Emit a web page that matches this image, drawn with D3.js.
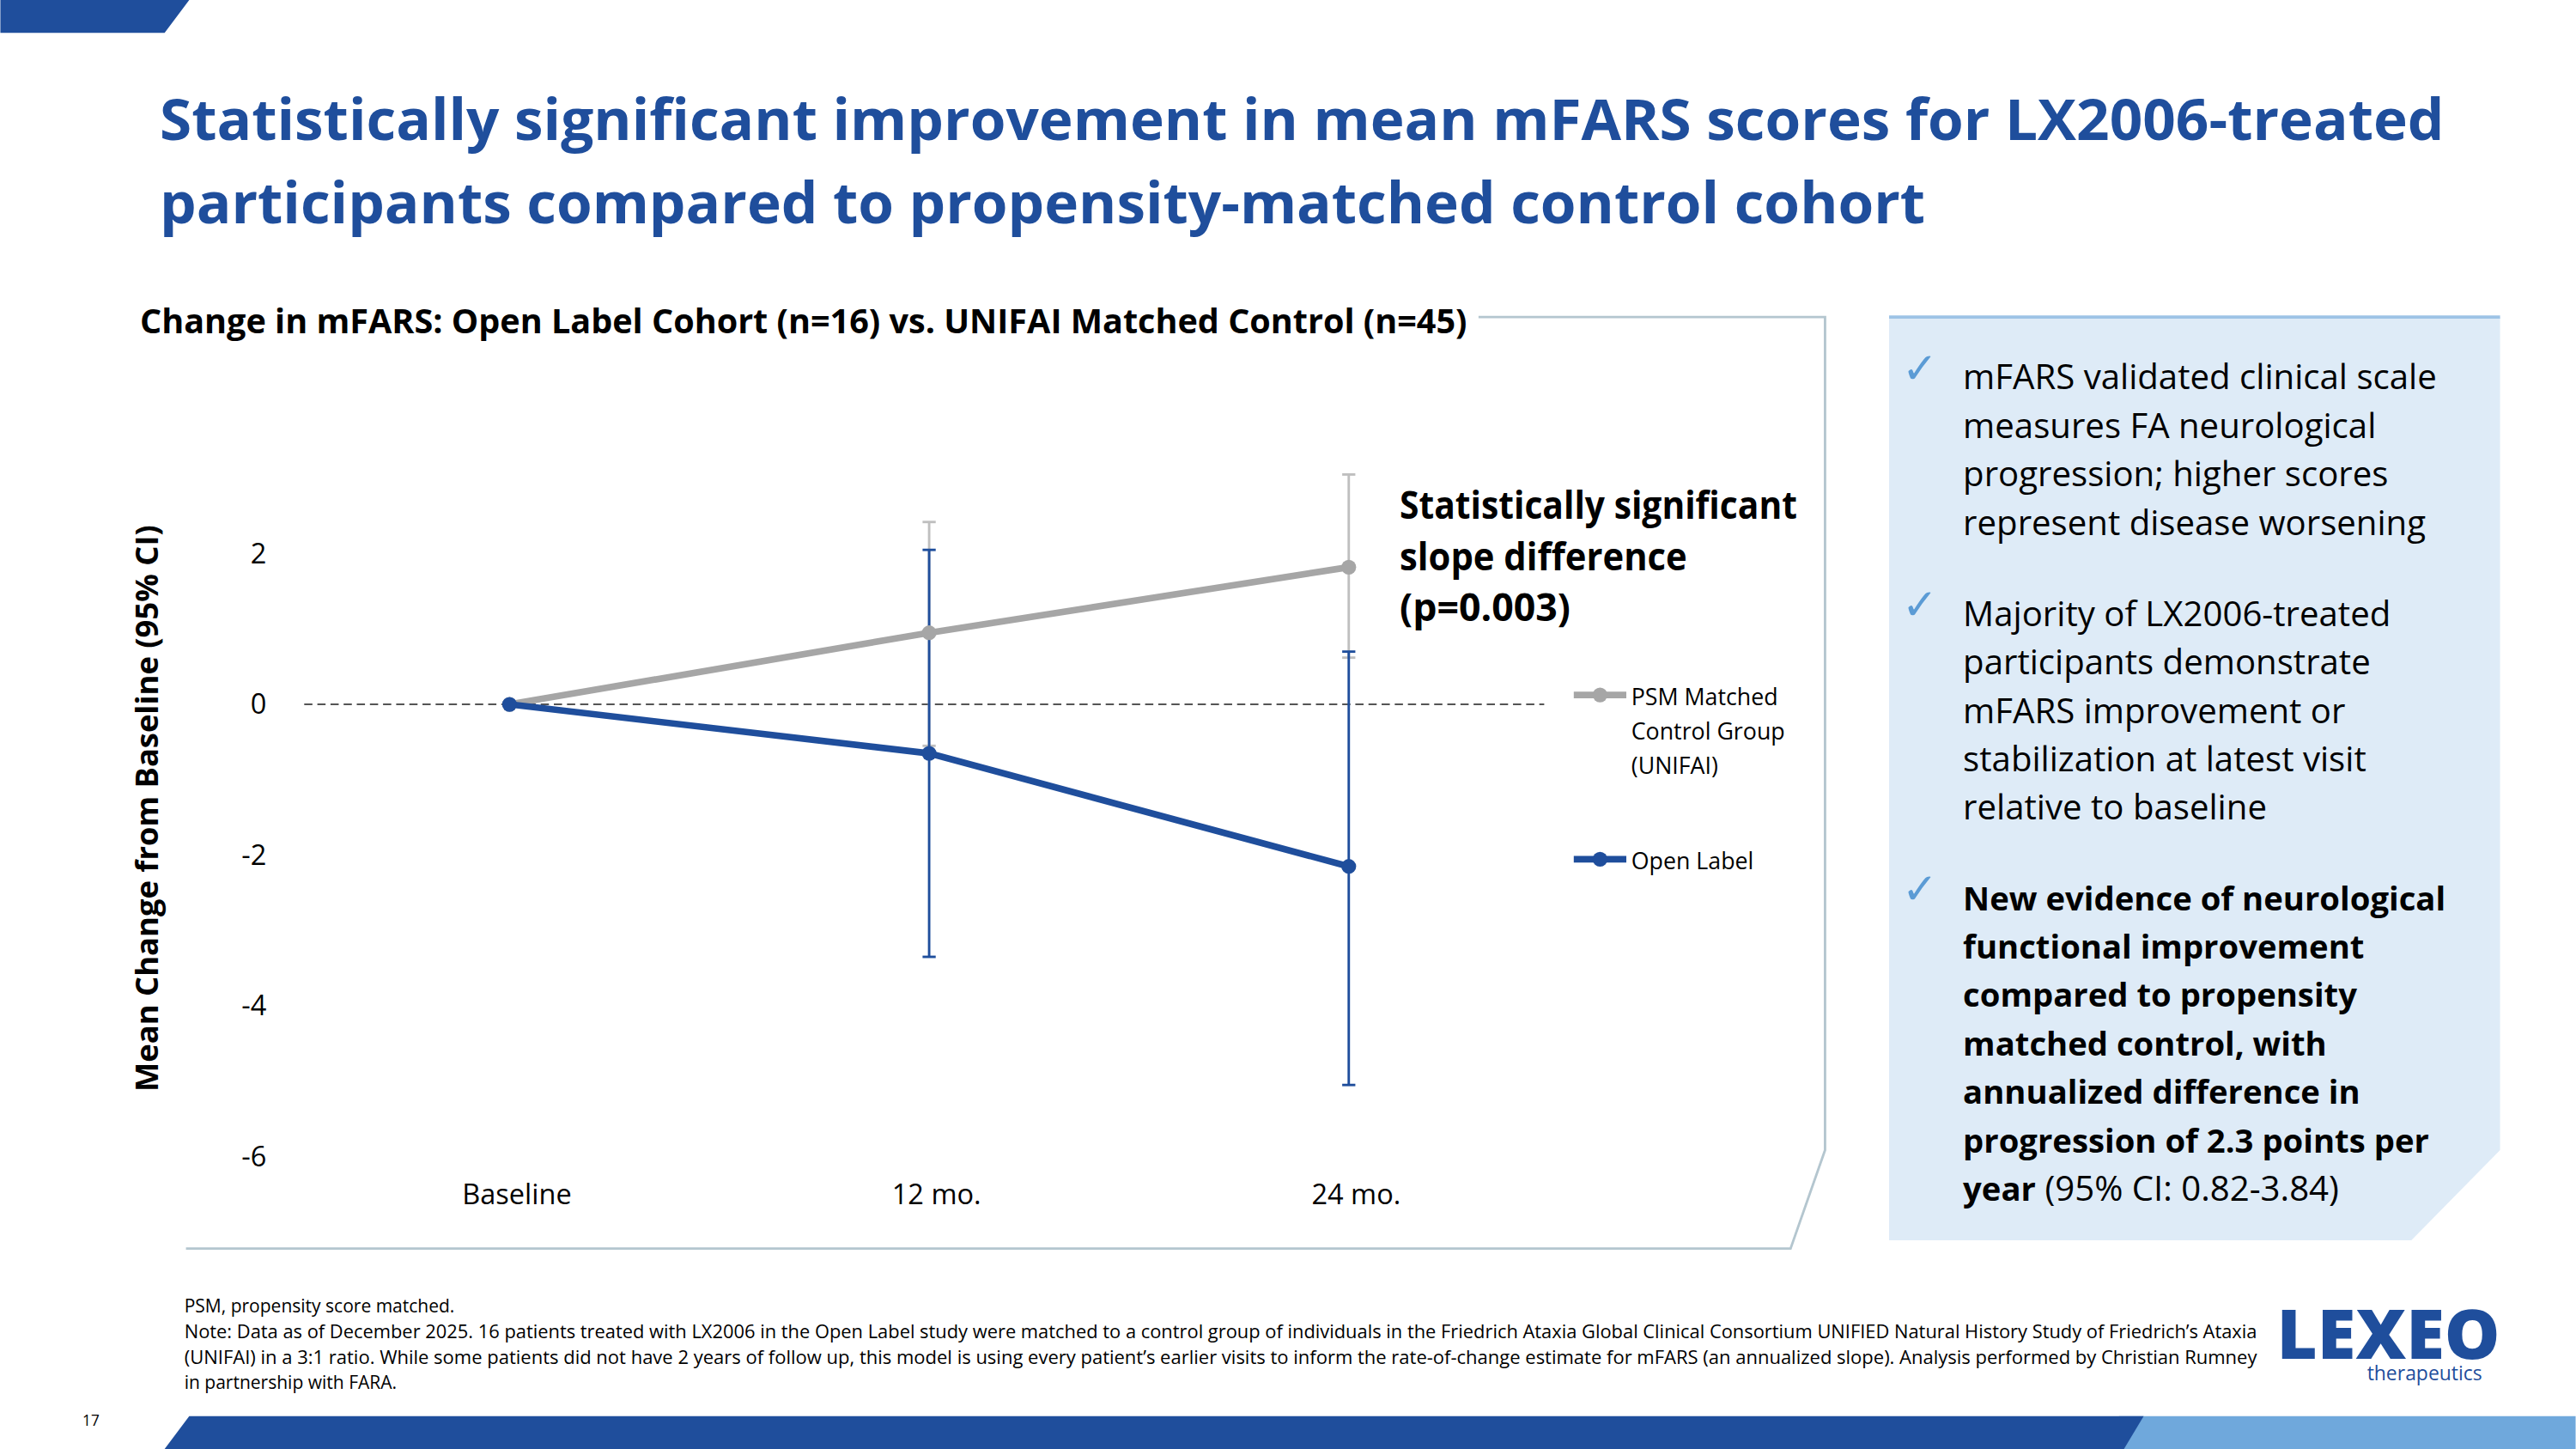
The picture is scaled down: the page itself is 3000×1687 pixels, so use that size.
<!DOCTYPE html>
<html><head><meta charset="utf-8">
<script src="https://cdn.jsdelivr.net/npm/d3@7"></script>
<style>body{margin:0;background:#fff}svg{display:block}text{font-family:"Open Sans",sans-serif}</style>
</head><body>
<svg id="c" width="3000" height="1687" viewBox="0 0 1568 882"></svg>
<script>
// data
var categories = ["Baseline", "12 mo.", "24 mo."];
var psmMean = [0, 0.95, 1.82];
var psmLow = [0, -0.55, 0.62];
var psmHigh = [0, 2.42, 3.05];
var olMean = [0, -0.65, -2.15];
var olLow = [0, -3.35, -5.05];
var olHigh = [0, 2.05, 0.7];
var yTicks = [2, 0, -2, -4, -6];
var titleLines = ["Statistically significant improvement in mean mFARS scores for LX2006-treated",
  "participants compared to propensity-matched control cohort"];
var bullets = [
  {bold: false, lines: ["mFARS validated clinical scale", "measures FA neurological", "progression; higher scores", "represent disease worsening"]},
  {bold: false, lines: ["Majority of LX2006-treated", "participants demonstrate", "mFARS improvement or", "stabilization at latest visit", "relative to baseline"]},
  {bold: true, lines: ["New evidence of neurological", "functional improvement", "compared to propensity", "matched control, with", "annualized difference in", "progression of 2.3 points per", "year|(95% CI: 0.82-3.84)"]}
];
var notes = ["PSM, propensity score matched.",
  "Note: Data as of December 2025. 16 patients treated with LX2006 in the Open Label study were matched to a control group of individuals in the Friedrich Ataxia Global Clinical Consortium UNIFIED Natural History Study of Friedrich\u2019s Ataxia",
  "(UNIFAI) in a 3:1 ratio. While some patients did not have 2 years of follow up, this model is using every patient\u2019s earlier visits to inform the rate-of-change estimate for mFARS (an annualized slope). Analysis performed by Christian Rumney",
  "in partnership with FARA."];

var blue = "#1f4e9c", grey = "#a6a6a6";
var svg = d3.select("#c");

// decorations
svg.append("path").attr("d", "M0,0H115L100,20H0Z").attr("fill", blue);
svg.append("path").attr("d", "M1290,862H1568V882H1278Z").attr("fill", "#6fa8dc");
svg.append("path").attr("d", "M115,862H1305L1293,882H100Z").attr("fill", blue);
svg.append("text").attr("x", 50).attr("y", 868).attr("font-size", 9).text("17");

titleLines.forEach(function (t, i) {
  svg.append("text").attr("x", 97).attr("y", 85 + i * 51).attr("font-size", 35).attr("font-weight", 700)
    .attr("fill", blue).attr("textLength", i === 0 ? 1391 : 1075).attr("lengthAdjust", "spacingAndGlyphs").text(t);
});

// chart frame
svg.append("path").attr("d", "M900,193H1111V700L1090,760H113").attr("fill", "none").attr("stroke", "#b4c6cf").attr("stroke-width", 1.5);
svg.append("text").attr("x", 85).attr("y", 203).attr("font-size", 21).attr("font-weight", 700)
  .attr("textLength", 808).attr("lengthAdjust", "spacingAndGlyphs")
  .text("Change in mFARS: Open Label Cohort (n=16) vs. UNIFAI Matched Control (n=45)");

var x = d3.scalePoint().domain(categories).range([310, 821]);
var y = d3.scaleLinear().domain([-6, 2]).range([704, 337]);

svg.append("line").attr("x1", 185).attr("x2", 940).attr("y1", y(0)).attr("y2", y(0))
  .attr("stroke", "#555").attr("stroke-dasharray", "5,3").attr("stroke-width", 1);

var yAxis = svg.append("g").attr("transform", "translate(165,0)")
  .call(d3.axisLeft(y).tickValues(yTicks).tickSize(0).tickFormat(function (d) { return String(d); }));
yAxis.select(".domain").remove();
yAxis.selectAll("text").attr("font-size", 17).attr("fill", "#000").attr("font-family", "Open Sans");

var xAxis = svg.append("g").attr("transform", "translate(4,718)").call(d3.axisBottom(x).tickSize(0));
xAxis.select(".domain").remove();
xAxis.selectAll("text").attr("font-size", 17).attr("fill", "#000").attr("font-family", "Open Sans");

svg.append("text").attr("transform", "translate(96,492) rotate(-90)").attr("text-anchor", "middle")
  .attr("font-size", 19).attr("font-weight", 700).text("Mean Change from Baseline (95% CI)");

function errBars(low, high, color) {
  categories.forEach(function (c, i) {
    if (i === 0) return;
    var g = svg.append("g").attr("stroke", color).attr("stroke-width", 1.5);
    g.append("line").attr("x1", x(c)).attr("x2", x(c)).attr("y1", y(low[i])).attr("y2", y(high[i]));
    [low[i], high[i]].forEach(function (v) {
      g.append("line").attr("x1", x(c) - 4).attr("x2", x(c) + 4).attr("y1", y(v)).attr("y2", y(v));
    });
  });
}
function series(vals, color) {
  var pts = categories.map(function (c, i) { return [x(c), y(vals[i])]; });
  svg.append("path").attr("d", d3.line()(pts)).attr("fill", "none").attr("stroke", color).attr("stroke-width", 4);
  svg.selectAll(null).data(pts).enter().append("circle").attr("cx", function (d) { return d[0]; })
    .attr("cy", function (d) { return d[1]; }).attr("r", 4.5).attr("fill", color);
}
errBars(psmLow, psmHigh, "#bfbfbf");
errBars(olLow, olHigh, blue);
series(psmMean, grey);
series(olMean, blue);

["Statistically significant", "slope difference", "(p=0.003)"].forEach(function (t, i) {
  svg.append("text").attr("x", 852).attr("y", 316 + i * 31).attr("font-size", 23).attr("font-weight", 700)
    .attr("textLength", [242, 175, 104][i]).attr("lengthAdjust", "spacingAndGlyphs").text(t);
});

// legend
var legend = [{lines: ["PSM Matched", "Control Group", "(UNIFAI)"], color: grey, y: 423},
  {lines: ["Open Label"], color: blue, y: 523}];
legend.forEach(function (l) {
  svg.append("line").attr("x1", 958).attr("x2", 990).attr("y1", l.y).attr("y2", l.y).attr("stroke", l.color).attr("stroke-width", 4);
  svg.append("circle").attr("cx", 974).attr("cy", l.y).attr("r", 4.5).attr("fill", l.color);
  l.lines.forEach(function (t, i) {
    svg.append("text").attr("x", 993).attr("y", l.y + 6 + i * 21).attr("font-size", 14).text(t);
  });
});

// right panel
svg.append("path").attr("d", "M1150,193H1522V700L1468,755H1150Z").attr("fill", "#deebf7");
svg.append("line").attr("x1", 1150).attr("x2", 1522).attr("y1", 193).attr("y2", 193).attr("stroke", "#9dc3e6").attr("stroke-width", 2);
var by = [237, 381, 554];
bullets.forEach(function (b, k) {
  svg.append("text").attr("x", 1158).attr("y", by[k] - 4).attr("font-size", 26).attr("fill", "#5b9bd5").text("\u2713");
  b.lines.forEach(function (t, i) {
    var tx = svg.append("text").attr("x", 1195).attr("y", by[k] + i * 29.5).attr("font-size", b.bold ? 20 : 21);
    var parts = t.split("|");
    tx.append("tspan").attr("font-weight", b.bold ? 700 : 400).text(parts[0]);
    if (parts[1]) tx.append("tspan").attr("font-weight", 400).attr("font-size", 21).text(" " + parts[1]);
  });
});

// footnotes
notes.forEach(function (t, i) {
  var tx = svg.append("text").attr("x", 112).attr("y", 799 + i * 15.5).attr("font-size", 11).text(t);
  if (i === 1 || i === 2) tx.attr("textLength", 1262).attr("lengthAdjust", "spacingAndGlyphs");
});

// logo
svg.append("text").attr("x", 1386).attr("y", 827).attr("font-size", 42).attr("font-weight", 800)
  .attr("fill", blue).attr("textLength", 136).attr("lengthAdjust", "spacingAndGlyphs").text("LEXEO");
svg.append("text").attr("x", 1441).attr("y", 840).attr("font-size", 12).attr("fill", blue).text("therapeutics");
</script>
</body></html>
